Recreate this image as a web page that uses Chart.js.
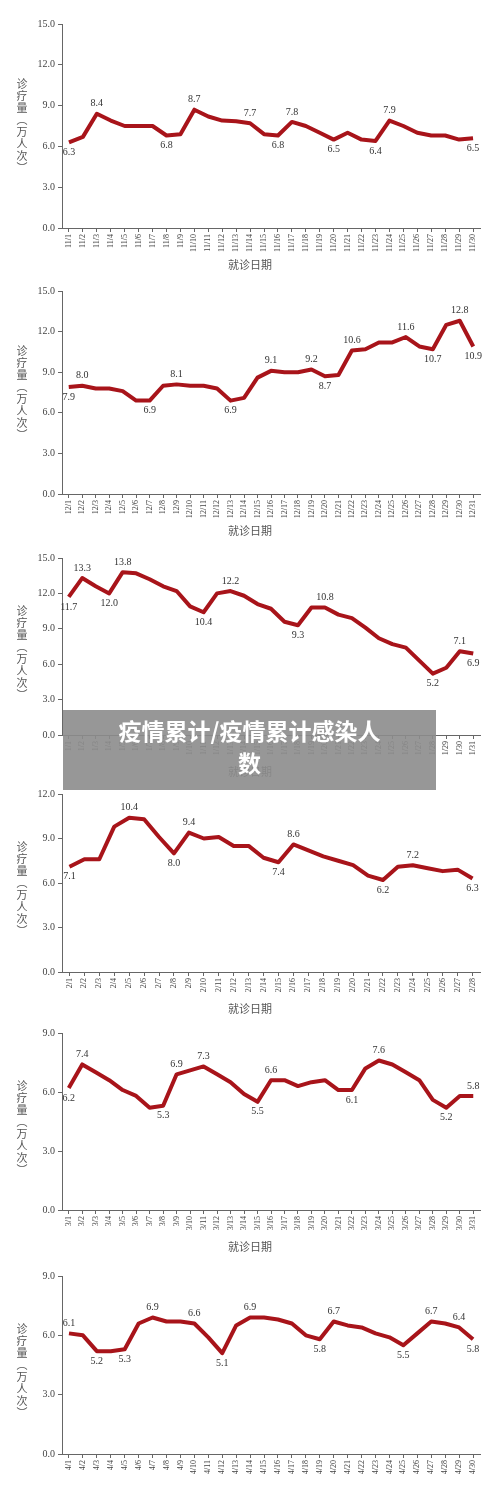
<!DOCTYPE html>
<html><head><meta charset="utf-8">
<script src="https://cdn.jsdelivr.net/npm/chart.js@4"></script>
<style>
body{margin:0;width:500px;height:1501px;background:#fff;position:relative;overflow:hidden;font-family:"Liberation Serif","Noto Sans CJK SC",serif}
.c{position:absolute;left:0;width:500px}
.yt{position:absolute;left:14px;writing-mode:vertical-rl;font-size:11px;color:#555;font-family:"Noto Sans CJK SC";letter-spacing:1px}
.xt{position:absolute;left:0;width:500px;text-align:center;font-size:11px;color:#555;font-family:"Noto Sans CJK SC"}
#ban{position:absolute;left:63px;top:710px;width:373px;height:80px;background:rgba(140,140,140,0.9);color:#fff;font:bold 23px "Noto Sans CJK SC";text-align:center;line-height:32px;padding-top:4px;box-sizing:border-box}
</style></head><body>
<script>
// ---- data ----
const novLabels = Array.from({length:30},(_, i)=>'11/'+(i+1));
const novValues = [6.3,6.7,8.4,7.9,7.5,7.5,7.5,6.8,6.9,8.7,8.2,7.9,7.85,7.7,6.9,6.8,7.8,7.5,7.0,6.5,7.0,6.5,6.4,7.9,7.5,7.0,6.8,6.8,6.5,6.6];
const novMarks = {0:['6.3','b'],2:['8.4','a'],7:['6.8','b'],9:['8.7','a'],13:['7.7','a'],15:['6.8','b'],16:['7.8','a'],19:['6.5','b'],22:['6.4','b'],23:['7.9','a'],29:['6.5','b']};
const decLabels = Array.from({length:31},(_, i)=>'12/'+(i+1));
const decValues = [7.9,8.0,7.8,7.8,7.6,6.9,6.9,8.0,8.1,8.0,8.0,7.8,6.9,7.1,8.6,9.1,9.0,9.0,9.2,8.7,8.8,10.6,10.7,11.2,11.2,11.6,10.9,10.7,12.5,12.8,10.9];
const decMarks = {0:['7.9','b'],1:['8.0','a'],6:['6.9','b'],8:['8.1','a'],12:['6.9','b'],15:['9.1','a'],18:['9.2','a'],19:['8.7','b'],21:['10.6','a'],25:['11.6','a'],27:['10.7','b'],29:['12.8','a'],30:['10.9','b']};
const janLabels = Array.from({length:31},(_, i)=>'1/'+(i+1));
const janValues = [11.7,13.3,12.6,12.0,13.8,13.7,13.2,12.6,12.2,10.9,10.4,12.0,12.2,11.8,11.1,10.7,9.6,9.3,10.8,10.8,10.2,9.9,9.1,8.2,7.7,7.4,6.3,5.2,5.7,7.1,6.9];
const janMarks = {0:['11.7','b'],1:['13.3','a'],3:['12.0','b'],4:['13.8','a'],10:['10.4','b'],12:['12.2','a'],17:['9.3','b'],19:['10.8','a'],27:['5.2','b'],29:['7.1','a'],30:['6.9','b']};
const febLabels = Array.from({length:28},(_, i)=>'2/'+(i+1));
const febValues = [7.1,7.6,7.6,9.8,10.4,10.3,9.1,8.0,9.4,9.0,9.1,8.5,8.5,7.7,7.4,8.6,8.2,7.8,7.5,7.2,6.5,6.2,7.1,7.2,7.0,6.8,6.9,6.3];
const febMarks = {0:['7.1','b'],4:['10.4','a'],7:['8.0','b'],8:['9.4','a'],14:['7.4','b'],15:['8.6','a'],21:['6.2','b'],23:['7.2','a'],27:['6.3','b']};
const marLabels = Array.from({length:31},(_, i)=>'3/'+(i+1));
const marValues = [6.2,7.4,7.0,6.6,6.1,5.8,5.2,5.3,6.9,7.1,7.3,6.9,6.5,5.9,5.5,6.6,6.6,6.3,6.5,6.6,6.1,6.1,7.2,7.6,7.4,7.0,6.6,5.6,5.2,5.8,5.8];
const marMarks = {0:['6.2','b'],1:['7.4','a'],7:['5.3','b'],8:['6.9','a'],10:['7.3','a'],14:['5.5','b'],15:['6.6','a'],21:['6.1','b'],23:['7.6','a'],28:['5.2','b'],30:['5.8','a']};
const aprLabels = Array.from({length:30},(_, i)=>'4/'+(i+1));
const aprValues = [6.1,6.0,5.2,5.2,5.3,6.6,6.9,6.7,6.7,6.6,5.9,5.1,6.5,6.9,6.9,6.8,6.6,6.0,5.8,6.7,6.5,6.4,6.1,5.9,5.5,6.1,6.7,6.6,6.4,5.8];
const aprMarks = {0:['6.1','a'],2:['5.2','b'],4:['5.3','b'],6:['6.9','a'],9:['6.6','a'],11:['5.1','b'],13:['6.9','a'],18:['5.8','b'],19:['6.7','a'],24:['5.5','b'],26:['6.7','a'],28:['6.4','a'],29:['5.8','b']};
const yTicks15 = [0,3,6,9,12,15], yTicks12=[0,3,6,9,12], yTicks9=[0,3,6,9];
const yTitle = '诊疗量（万人次）', xTitle = '就诊日期';

const panels = [
 [novLabels,novValues,novMarks,yTicks15,23,228,true],
 [decLabels,decValues,decMarks,yTicks15,290,494,true],
 [janLabels,janValues,janMarks,yTicks15,557,735,true],
 [febLabels,febValues,febMarks,yTicks12,793,972,true],
 [marLabels,marValues,marMarks,yTicks9,1032,1210,true],
 [aprLabels,aprValues,aprMarks,yTicks9,1275,1454,false]
];
const labelPlugin={id:'lbl',afterDatasetsDraw(ch,a,o){const m=ch.options.plugins.lbl.marks;const meta=ch.getDatasetMeta(0);const c=ch.ctx;c.save();c.font='10px "Liberation Serif"';c.fillStyle='#333';c.textAlign='center';
 for(const k in m){const p=meta.data[k];const [t,pos]=m[k];c.textBaseline=pos==='a'?'bottom':'top';c.fillText(t,p.x,pos==='a'?p.y-5:p.y+5);}c.restore();}};
panels.forEach(([labels,values,marks,ticks,top,bottom,showX])=>{
 const padTop=8, xh=30;
 const d=document.createElement('div');d.className='c';d.style.top=(top-padTop)+'px';d.style.height=(bottom-top+padTop+xh)+'px';
 const cv=document.createElement('canvas');d.appendChild(cv);document.body.appendChild(d);
 const yt=document.createElement('div');yt.className='yt';yt.textContent=yTitle;yt.style.top=(top+(bottom-top)*0.27)+'px';document.body.appendChild(yt);
 if(showX){const xt=document.createElement('div');xt.className='xt';xt.textContent=xTitle;xt.style.top=(bottom+28)+'px';document.body.appendChild(xt);}
 const max=ticks[ticks.length-1];
 new Chart(cv,{type:'line',data:{labels,datasets:[{data:values,borderColor:'#a8141a',borderWidth:4,pointRadius:0,tension:0,borderJoinStyle:'round'}]},
  options:{responsive:true,maintainAspectRatio:false,animation:false,layout:{padding:{top:padTop,right:20,left:0,bottom:0}},
   plugins:{legend:{display:false},tooltip:{enabled:false},lbl:{marks}},
   scales:{
    x:{offset:true,grid:{display:true,drawOnChartArea:false,tickLength:4,color:'#666'},border:{color:'#666'},
       afterFit(s){s.height=xh;},
       ticks:{autoSkip:false,maxRotation:90,minRotation:90,font:{size:8,family:'Liberation Serif'},color:'#444',padding:2}},
    y:{min:0,max:max,afterFit(s){s.width=62;},afterBuildTicks(s){s.ticks=ticks.map(v=>({value:v}));},
       grid:{display:true,drawOnChartArea:false,tickLength:4,color:'#666'},border:{color:'#666'},
       ticks:{font:{size:10,family:'Liberation Serif'},color:'#444',callback:v=>v.toFixed(1)}}
   }},plugins:[labelPlugin]});
});
</script>
<div id="ban">疫情累计/疫情累计感染人<br>数</div>
</body></html>
